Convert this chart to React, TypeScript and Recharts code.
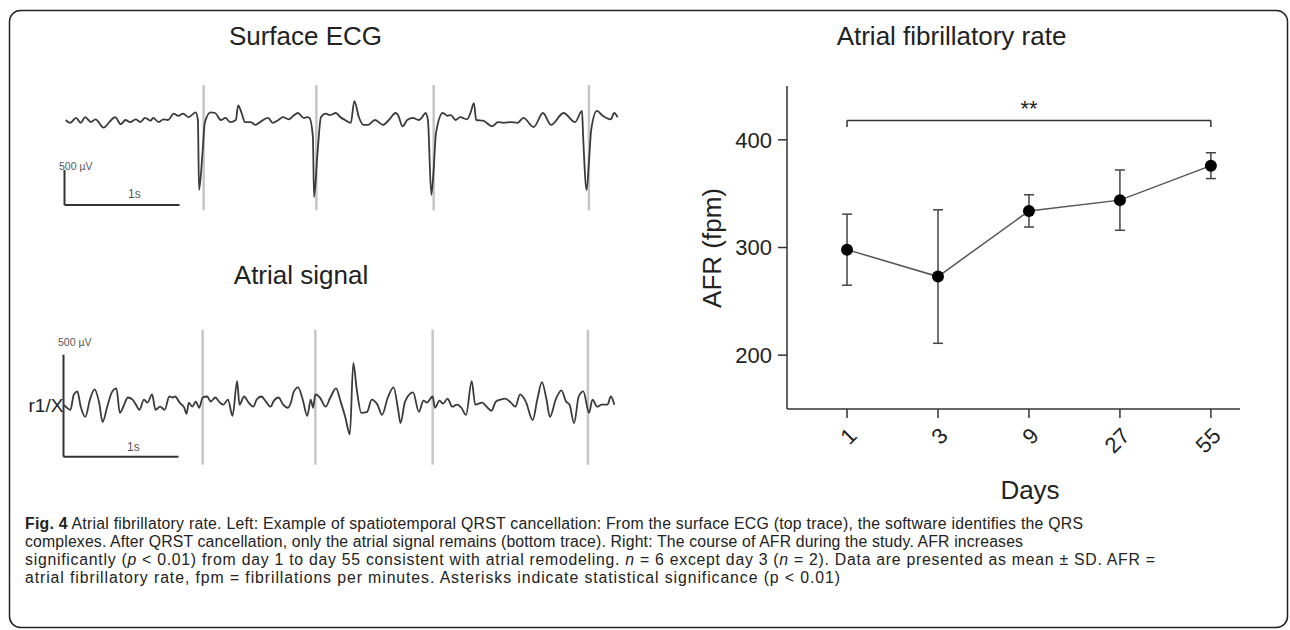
import { LineChart, Line, XAxis, YAxis, ReferenceLine, ErrorBar, ComposedChart } from 'recharts';

// ─── Surface ECG trace (time in s, amplitude in µV) ──────────────────────────
const ecgTime = [
  0.01, 0.05, 0.1, 0.14, 0.18, 0.23, 0.27, 0.34, 0.39, 0.44, 0.49, 0.53, 0.57, 0.62, 0.66, 0.7,
  0.75, 0.77, 0.82, 0.86, 0.9, 0.95, 0.99, 1.03, 1.08, 1.14, 1.16, 1.17, 1.2, 1.22, 1.27, 1.31,
  1.36, 1.4, 1.44, 1.49, 1.51, 1.54, 1.57, 1.62, 1.66, 1.7, 1.77, 1.81, 1.86, 1.9, 1.95, 1.99,
  2.03, 2.08, 2.11, 2.13, 2.16, 2.17, 2.2, 2.23, 2.27, 2.31, 2.36, 2.4, 2.44, 2.49, 2.52, 2.56,
  2.6, 2.64, 2.7, 2.77, 2.82, 2.88, 2.9, 2.94, 2.98, 3.03, 3.08, 3.11, 3.14, 3.16, 3.19, 3.21,
  3.23, 3.29, 3.33, 3.36, 3.4, 3.44, 3.5, 3.53, 3.56, 3.58, 3.64, 3.72, 3.77, 3.82, 3.88, 3.94,
  3.99, 4.08, 4.16, 4.23, 4.34, 4.44, 4.5, 4.51, 4.54, 4.56, 4.58, 4.63, 4.68, 4.75, 4.78, 4.81,
];
const ecgMicroV = [
  0, -40, 30, -40, 40, -30, 10, -110, -30, 40, -60, 0, -30, 10, -30, 30,
  -10, 30, -30, 10, 0, 90, 60, 90, 40, 110, 0, -1000, -470, -40, 110, 100,
  0, 30, -30, 0, 210, 100, -30, -30, -70, -30, 30, -40, 0, 40, 10, 60,
  100, 30, 40, 30, -240, -1100, -470, 40, 90, 70, 100, 40, 0, -40, 270, 40,
  -70, -70, 0, -70, 0, 100, 70, -90, 0, 30, 0, 40, 100, 0, -1070, -710,
  -190, 100, 60, 70, 0, 40, 10, 100, 240, 0, -10, -90, -30, -40, -30, -40,
  30, -100, 100, -70, 100, -30, 130, -240, -1000, -610, -140, 130, 60, 10, 100, 40,
];

// ─── Atrial signal after QRST cancellation ───────────────────────────────────
const atrialTime = [
  0, 0.03, 0.06, 0.09, 0.12, 0.15, 0.19, 0.23, 0.27, 0.31, 0.34, 0.38, 0.42, 0.46, 0.49, 0.52,
  0.56, 0.6, 0.63, 0.66, 0.7, 0.73, 0.77, 0.8, 0.84, 0.88, 0.92, 0.95, 0.97, 1.01, 1.05, 1.07,
  1.09, 1.12, 1.15, 1.18, 1.21, 1.25, 1.28, 1.32, 1.36, 1.39, 1.43, 1.47, 1.51, 1.53, 1.57, 1.61,
  1.65, 1.68, 1.72, 1.76, 1.8, 1.83, 1.87, 1.91, 1.95, 1.98, 2.0, 2.04, 2.08, 2.12, 2.15, 2.17,
  2.19, 2.23, 2.28, 2.32, 2.37, 2.41, 2.45, 2.49, 2.52, 2.55, 2.59, 2.64, 2.68, 2.73, 2.77, 2.82,
  2.87, 2.91, 2.93, 2.97, 3.04, 3.09, 3.13, 3.16, 3.21, 3.23, 3.27, 3.3, 3.34, 3.38, 3.42, 3.46,
  3.5, 3.55, 3.58, 3.64, 3.68, 3.72, 3.76, 3.8, 3.84, 3.89, 3.93, 3.97, 4.02, 4.08, 4.12, 4.16,
  4.2, 4.23, 4.28, 4.33, 4.37, 4.4, 4.44, 4.48, 4.52, 4.57, 4.6, 4.64, 4.68, 4.73, 4.76, 4.79,
];
const atrialMicroV = [
  0, -15, -25, 50, 65, -10, -60, 25, 75, 10, -85, -10, 60, 80, -40, -10,
  35, 25, 0, -25, 25, 10, 50, -25, -10, -25, 40, 35, 40, 10, -15, -45,
  10, -10, 15, -15, 35, 40, 15, 35, 10, 0, 25, -55, 115, 0, 40, 10,
  -10, 25, 40, 15, -10, 20, 35, 0, -15, 15, 60, 85, 25, -55, 25, -15,
  50, 35, -10, 35, 80, 15, -60, -145, 205, 75, -40, -35, 25, 0, -50, 35,
  85, -25, -90, 15, 60, -35, 20, 10, 40, -15, 20, 5, 30, -10, 0, -15,
  -50, 115, 0, 10, -10, -30, 15, 25, 30, 10, -10, 50, 15, -75, 25, 110,
  25, -60, 25, 70, 15, 0, -90, 40, 65, -40, 25, -10, 0, 0, 40, 0,
];

// detected QRS complexes (s)
const qrsTimes = [1.21, 2.19, 3.21, 4.56];
const scaleBarUv = 500;
const scaleBarSec = 1;

// ─── AFR course ───────────────────────────────────────────────────────────────
const days = ['1', '3', '9', '27', '55'];
const afrMean = [298, 273, 334, 344, 376];
const afrSd = [33, 62, 15, 28, 12];
const afrTicks = [200, 300, 400];
const bracketLevel = 418;
const bracketFoot = 412;

const FONT = '"Liberation Sans", Arial, Helvetica, sans-serif';
const TIME_DOMAIN: [number, number] = [-0.1, 4.85];

interface TraceProps {
  time: number[];
  volts: number[];
  box: { left: number; top: number; width: number; height: number };
  yDomain: [number, number];
  markerRange: [number, number];
  barBottom: number;
}

function Trace({ time, volts, box, yDomain, markerRange, barBottom }: TraceProps) {
  const data = time.map((t, i) => ({ t, v: volts[i] }));
  return (
    <div style={{ position: 'absolute', left: box.left, top: box.top }}>
      <LineChart width={box.width} height={box.height} data={data} margin={{ top: 0, right: 0, bottom: 0, left: 0 }}>
        <XAxis type="number" dataKey="t" domain={TIME_DOMAIN} hide allowDataOverflow />
        <YAxis type="number" domain={yDomain} hide allowDataOverflow />
        {qrsTimes.map(t => (
          <ReferenceLine
            key={t}
            segment={[{ x: t, y: markerRange[0] }, { x: t, y: markerRange[1] }]}
            stroke="#c6c6c6"
            strokeWidth={2.5}
            ifOverflow="visible"
          />
        ))}
        <ReferenceLine
          segment={[{ x: 0, y: barBottom + scaleBarUv }, { x: 0, y: barBottom }]}
          stroke="#333"
          strokeWidth={2}
          ifOverflow="visible"
        />
        <ReferenceLine
          segment={[{ x: 0, y: barBottom }, { x: scaleBarSec, y: barBottom }]}
          stroke="#333"
          strokeWidth={2}
          ifOverflow="visible"
        />
        <Line dataKey="v" type="monotone" stroke="#3a3a3a" strokeWidth={1.8} dot={false} isAnimationActive={false} />
      </LineChart>
    </div>
  );
}

function DayTick(props: any) {
  const { x, y, payload } = props;
  return (
    <text
      x={x}
      y={y}
      transform={`rotate(-45, ${x}, ${y})`}
      textAnchor="end"
      dy="0.72em"
      fontSize={22}
      fill="#222"
      fontFamily={FONT}
    >
      {days[payload.value]}
    </text>
  );
}

function AfrChart() {
  const data = days.map((d, i) => ({ x: i, day: d, mean: afrMean[i], sd: afrSd[i] }));
  const axisStyle = { stroke: '#333', strokeWidth: 1.5 };
  return (
    <div style={{ position: 'absolute', left: 690, top: 60 }}>
      <ComposedChart width={590} height={450} data={data} margin={{ top: 26, right: 40, bottom: 41, left: 37 }}>
        <XAxis
          type="number"
          dataKey="x"
          domain={[-0.66, 4.32]}
          ticks={[0, 1, 2, 3, 4]}
          interval={0}
          height={60}
          tickSize={9}
          tickMargin={8}
          axisLine={axisStyle}
          tickLine={axisStyle}
          tick={<DayTick />}
          allowDataOverflow
        />
        <YAxis
          type="number"
          domain={[150, 450]}
          ticks={afrTicks}
          width={60}
          tickSize={9}
          tickMargin={6}
          axisLine={axisStyle}
          tickLine={axisStyle}
          tick={{ fontSize: 22, fill: '#222', fontFamily: FONT }}
          allowDataOverflow
        />
        <ReferenceLine
          segment={[{ x: 0, y: bracketLevel }, { x: 4, y: bracketLevel }]}
          stroke="#333"
          strokeWidth={1.5}
          ifOverflow="visible"
          label={{ value: '**', position: 'top', offset: 4, fontSize: 22, fill: '#222', fontFamily: FONT }}
        />
        <ReferenceLine segment={[{ x: 0, y: bracketFoot }, { x: 0, y: bracketLevel }]} stroke="#333" strokeWidth={1.5} />
        <ReferenceLine segment={[{ x: 4, y: bracketFoot }, { x: 4, y: bracketLevel }]} stroke="#333" strokeWidth={1.5} />
        <Line
          dataKey="mean"
          type="linear"
          stroke="#555"
          strokeWidth={1.5}
          dot={{ r: 6, fill: '#000', stroke: '#000', strokeWidth: 0 }}
          isAnimationActive={false}
        >
          <ErrorBar dataKey="sd" width={5} stroke="#444" strokeWidth={1.5} direction="y" isAnimationActive={false} />
        </Line>
      </ComposedChart>
    </div>
  );
}

export default function App() {
  return (
    <div style={{ position: 'absolute', left: 0, top: 0, width: 1290, height: 630, background: '#fff', fontFamily: FONT, overflow: 'hidden' }}>
      <Trace
        time={ecgTime}
        volts={ecgMicroV}
        box={{ left: 52.5, top: 78, width: 569.25, height: 133 }}
        yDomain={[-1300, 600]}
        markerRange={[500, -1290]}
        barBottom={-1215}
      />
      <Trace
        time={atrialTime}
        volts={atrialMicroV}
        box={{ left: 51.5, top: 323.4, width: 569.25, height: 147 }}
        yDomain={[-320, 400]}
        markerRange={[367, -294]}
        barBottom={-255}
      />
      <AfrChart />
      <svg width={1290} height={630} style={{ position: 'absolute', left: 0, top: 0, pointerEvents: 'none' }}>
        <rect x={9.5} y={10.5} width={1278} height={617} rx={11} fill="none" stroke="#222" strokeWidth={1.5} />
        <g fontFamily={FONT} fill="#222">
          <text x={305.5} y={45} textAnchor="middle" fontSize={26}>Surface ECG</text>
          <text x={301} y={284} textAnchor="middle" fontSize={26}>Atrial signal</text>
          <text x={951.5} y={45} textAnchor="middle" fontSize={26}>Atrial fibrillatory rate</text>
          <text x={1030} y={499} textAnchor="middle" fontSize={26}>Days</text>
          <text transform="translate(721 248) rotate(-90)" textAnchor="middle" fontSize={26}>AFR (fpm)</text>
          <text x={28.5} y={412} fontSize={19}>r1/X</text>
          <g fill="#555" fontSize={10.5}>
            <text x={59} y={170}>500 µV</text>
            <text x={58} y={346}>500 µV</text>
            <text x={128} y={198} fontSize={12}>1s</text>
            <text x={127} y={451} fontSize={12}>1s</text>
          </g>
        </g>
        <g fontFamily={FONT} fontSize={15.8} fill="#222">
          <text x={25} y={528.5} textLength={1058} lengthAdjust="spacing">
            <tspan fontWeight={700}>Fig. 4</tspan> Atrial fibrillatory rate. Left: Example of spatiotemporal QRST cancellation: From the surface ECG (top trace), the software identifies the QRS
          </text>
          <text x={25} y={546.5} textLength={998} lengthAdjust="spacing">
            complexes. After QRST cancellation, only the atrial signal remains (bottom trace). Right: The course of AFR during the study. AFR increases
          </text>
          <text x={25} y={564.5} textLength={1130} lengthAdjust="spacing">
            significantly (<tspan fontStyle="italic">p</tspan> &lt; 0.01) from day 1 to day 55 consistent with atrial remodeling. <tspan fontStyle="italic">n</tspan> = 6 except day 3 (<tspan fontStyle="italic">n</tspan> = 2). Data are presented as mean ± SD. AFR =
          </text>
          <text x={25} y={582.5} textLength={815} lengthAdjust="spacing">
            atrial fibrillatory rate, fpm = fibrillations per minutes. Asterisks indicate statistical significance (p &lt; 0.01)
          </text>
        </g>
      </svg>
    </div>
  );
}
